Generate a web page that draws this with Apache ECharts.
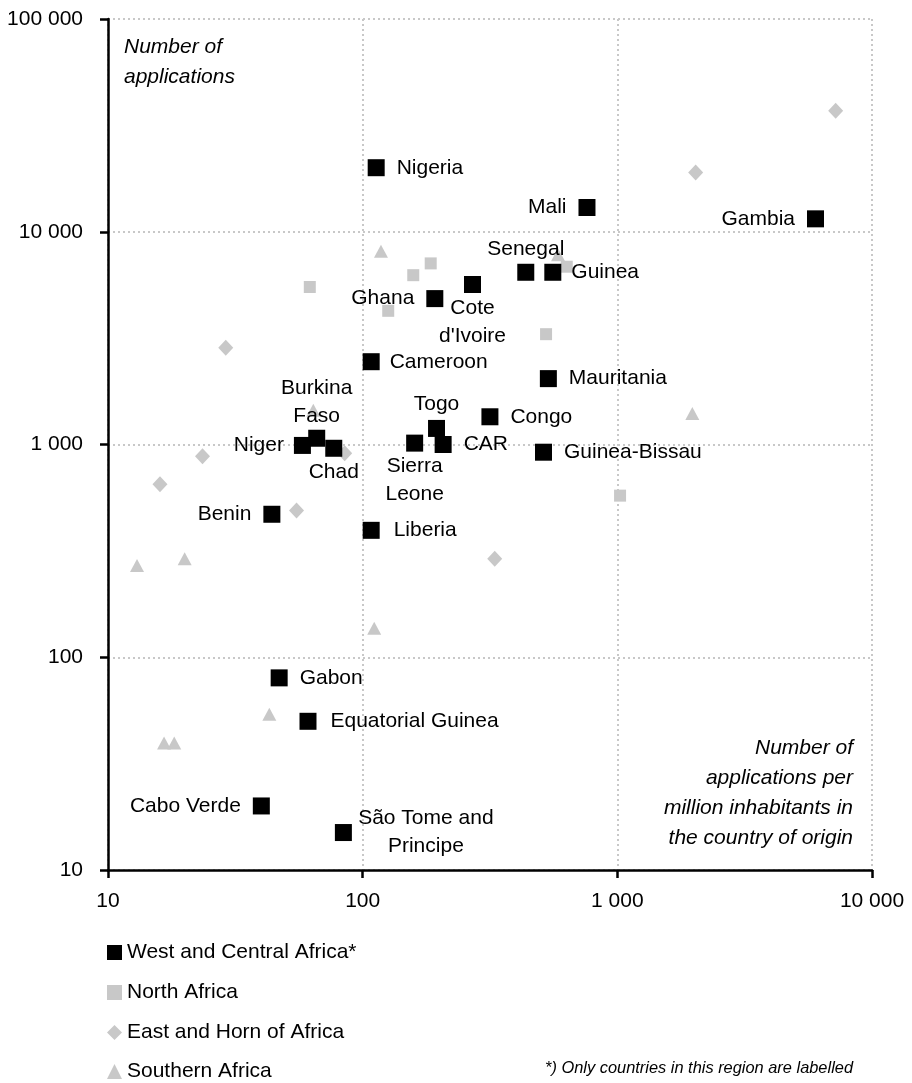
<!DOCTYPE html>
<html>
<head>
<meta charset="utf-8">
<script src="https://cdn.jsdelivr.net/npm/echarts@6/dist/echarts.min.js"></script>
<style>
html,body{margin:0;padding:0;background:#fff;}
#c{width:912px;height:1083px;}
</style>
</head>
<body>
<div id="c"></div>
<script>
// ---- data ----
const seriesNames = ["West and Central Africa*", "North Africa", "East and Horn of Africa", "Southern Africa"];

const westNames = ["Nigeria","Mali","Gambia","Senegal","Guinea","Ghana","Cote d'Ivoire","Cameroon","Mauritania","Burkina Faso","Togo","Congo","Niger","Chad","Sierra Leone","CAR","Guinea-Bissau","Benin","Liberia","Gabon","Equatorial Guinea","Cabo Verde","São Tome and Principe"];
const westPerMillion = [113,760,6000,437,558,192,270,108,536,66,195,316,58,77,160,207,513,44,108,47,61,40,84];
const westApplications = [20000,13000,11500,6450,6450,4850,5650,2450,2040,1070,1190,1350,990,960,1015,1000,920,470,395,80,50,20,15];

const northPerMillion = [62,158,185,126,633,525,1025];
const northApplications = [5500,6250,7100,4250,6850,3300,575];

const eastPerMillion = [29,23.5,16,85,55,330,2030,7200];
const eastApplications = [2850,880,650,910,490,290,19000,37000];

const southPerMillion = [118,64,13,20,111,43,16.6,18.2,585,1970];
const southApplications = [8100,1450,270,290,137,54,39.5,39.5,7800,1400];

const xTicks = [10, 100, 1000, 10000];
const yTicks = [10, 100, 1000, 10000, 100000];

// ---- styling / layout config ----
const FONT = '"Liberation Sans",Arial,sans-serif';
const FS = 21;
const GRAY = '#c8c8c8';
const labelPlacement = {
  "Nigeria": {position:'right'},
  "Mali": {position:'left'},
  "Gambia": {position:'left'},
  "Senegal": {position:'top'},
  "Guinea": {position:'right', distance:10},
  "Ghana": {position:'left'},
  "Cote d'Ivoire": {position:'bottom', text:"Cote\nd'Ivoire"},
  "Cameroon": {position:'right', distance:10},
  "Mauritania": {position:'right'},
  "Burkina Faso": {position:'top', text:"Burkina\nFaso", distance:0},
  "Togo": {position:'top', distance:2},
  "Congo": {position:'right'},
  "Niger": {position:'left', distance:10},
  "Chad": {position:'bottom'},
  "Sierra Leone": {position:'bottom', text:"Sierra\nLeone"},
  "CAR": {position:'right'},
  "Guinea-Bissau": {position:'right'},
  "Benin": {position:'left'},
  "Liberia": {position:'right', distance:14},
  "Gabon": {position:'right'},
  "Equatorial Guinea": {position:'right', distance:14},
  "Cabo Verde": {position:'left'},
  "São Tome and Principe": {position:[91, 8.5], text:"São Tome and\nPrincipe", align:'center', verticalAlign:'middle'}
};

function fmt(v){
  return String(Math.round(v)).replace(/\B(?=(\d{3})+(?!\d))/g, ' ');
}
function pairs(xs, ys){ return xs.map((x,i)=>[x, ys[i]]); }

const westData = westNames.map((n,i)=>{
  const p = labelPlacement[n] || {position:'right'};
  const lab = {
    show:true,
    position:p.position,
    formatter: p.text || n
  };
  if (typeof p.position === 'string') {
    if (p.position==='top' || p.position==='bottom') lab.distance = p.distance !== undefined ? p.distance : 1;
    else lab.distance = p.distance !== undefined ? p.distance : 12;
  }
  if (p.align) lab.align = p.align;
  if (p.verticalAlign) lab.verticalAlign = p.verticalAlign;
  return {name:n, value:[westPerMillion[i], westApplications[i]], label:lab};
});

const chart = echarts.init(document.getElementById('c'), null, {renderer:'canvas'});
const axisCommon = {
  type:'log', logBase:10,
  axisLine:{show:true, onZero:false, lineStyle:{color:'#000', width:2.5}},
  axisTick:{show:true, inside:false, length:8, lineStyle:{color:'#000', width:2.5}},
  splitLine:{show:true, lineStyle:{color:GRAY, width:2, type:[2,3]}},
  minorTick:{show:false}, minorSplitLine:{show:false},
  axisLabel:{color:'#000', fontFamily:FONT, fontSize:FS, formatter:fmt}
};

const legendIcons = ['rect','rect','diamond','triangle'];
const legendTops = [942, 982, 1022, 1061];
const legends = seriesNames.map((nm, i) => ({
  orient:'vertical', left:107, top:legendTops[i], padding:0,
  itemWidth:15, itemHeight:15, itemStyle:{borderWidth:0, opacity:1},
  textStyle:{fontFamily:FONT, fontSize:FS, color:'#000', lineHeight:20},
  data:[{name:nm, icon:legendIcons[i]}]
}));

chart.setOption({
  animation:false,
  backgroundColor:'#fff',
  textStyle:{fontFamily:FONT},
  grid:{left:108, right:40, top:19, bottom:213, containLabel:false},
  xAxis: Object.assign({}, axisCommon, {min:xTicks[0], max:xTicks[xTicks.length-1],
    axisLabel:Object.assign({}, axisCommon.axisLabel, {margin:21, showMinLabel:true, showMaxLabel:true})}),
  yAxis: Object.assign({}, axisCommon, {min:yTicks[0], max:yTicks[yTicks.length-1],
    axisLabel:Object.assign({}, axisCommon.axisLabel, {margin:25, showMinLabel:true, showMaxLabel:true})}),
  legend: legends,
  graphic:[
    {type:'text', left:124, top:37, style:{text:'Number of', font:'italic '+FS+'px '+FONT, fill:'#000'}},
    {type:'text', left:124, top:67, style:{text:'applications', font:'italic '+FS+'px '+FONT, fill:'#000'}},
    {type:'text', right:59, top:738, style:{text:'Number of', font:'italic '+FS+'px '+FONT, fill:'#000'}},
    {type:'text', right:59, top:768, style:{text:'applications per', font:'italic '+FS+'px '+FONT, fill:'#000'}},
    {type:'text', right:59, top:798, style:{text:'million inhabitants in', font:'italic '+FS+'px '+FONT, fill:'#000'}},
    {type:'text', right:59, top:828, style:{text:'the country of origin', font:'italic '+FS+'px '+FONT, fill:'#000'}},
    {type:'text', right:59, top:1060, style:{text:'*) Only countries in this region are labelled', font:'italic 16.4px '+FONT, fill:'#000'}}
  ],
  series:[
    {name:seriesNames[1], type:'scatter', symbol:'rect', symbolSize:12, itemStyle:{color:GRAY, opacity:1}, data:pairs(northPerMillion, northApplications), z:2},
    {name:seriesNames[2], type:'scatter', symbol:'diamond', symbolSize:[15,16], itemStyle:{color:GRAY, opacity:1}, data:pairs(eastPerMillion, eastApplications), z:2},
    {name:seriesNames[3], type:'scatter', symbol:'triangle', symbolSize:[14,13], itemStyle:{color:GRAY, opacity:1}, data:pairs(southPerMillion, southApplications), z:2},
    {name:seriesNames[0], type:'scatter', symbol:'rect', symbolSize:17, itemStyle:{color:'#000', opacity:1},
      label:{show:true, color:'#000', fontFamily:FONT, fontSize:FS, lineHeight:28},
      labelLayout:{hideOverlap:false},
      data:westData, z:3}
  ]
});
</script>
</body>
</html>
